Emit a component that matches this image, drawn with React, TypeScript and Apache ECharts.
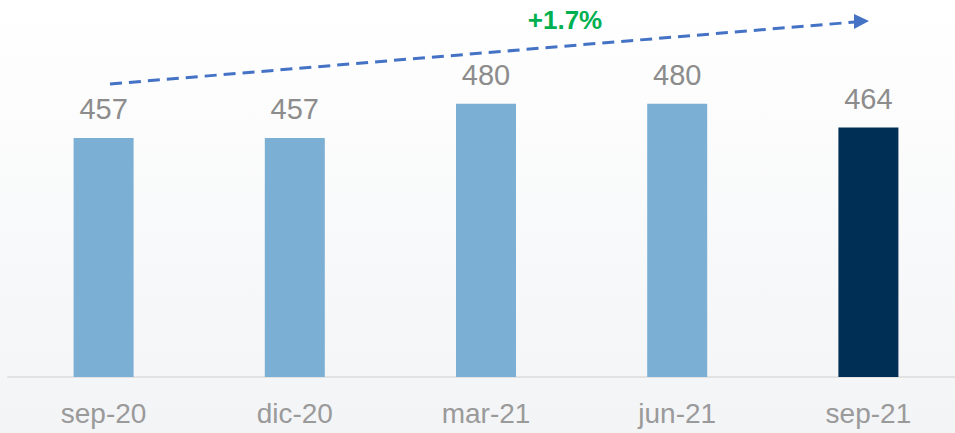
import React, { useEffect, useRef } from "react";
import * as echarts from "echarts";

const categories = ["sep-20", "dic-20", "mar-21", "jun-21", "sep-21"];
const values = [457, 457, 480, 480, 464];
const barColors = ["#7BAFD4", "#7BAFD4", "#7BAFD4", "#7BAFD4", "#002F56"];
const changeLabel = "+1.7%";

export default function App() {
  const ref = useRef<HTMLDivElement>(null);
  useEffect(() => {
    if (!ref.current) return;
    const chart = echarts.init(ref.current, undefined, { renderer: "svg" });
    chart.setOption({
      animation: false,
      backgroundColor: {
        type: "linear",
        x: 0, y: 0, x2: 0, y2: 1,
        colorStops: [
          { offset: 0, color: "#ffffff" },
          { offset: 1, color: "#f3f4f6" },
        ],
      },
      grid: { left: 8, right: 0, top: 14, bottom: 56, containLabel: false },
      xAxis: {
        type: "category",
        data: categories,
        axisTick: { show: false },
        axisLine: { lineStyle: { color: "#e2e2e2", width: 2 } },
        axisLabel: {
          color: "#9a9a9a",
          fontSize: 28,
          fontFamily: "'Liberation Sans', Arial, sans-serif",
          margin: 22,
        },
      },
      yAxis: {
        type: "value",
        min: 297,
        max: 540,
        show: false,
        splitLine: { show: false },
      },
      series: [
        {
          type: "bar",
          data: values.map((v, i) => ({ value: v, itemStyle: { color: barColors[i] } })),
          barWidth: 60,
          label: {
            show: true,
            position: "top",
            distance: 14,
            color: "#8c8c8c",
            fontSize: 29,
            fontFamily: "'Liberation Sans', Arial, sans-serif",
          },
        },
      ],
      graphic: [
        {
          type: "line",
          shape: { x1: 110, y1: 84, x2: 855, y2: 22 },
          style: { stroke: "#4472C4", lineWidth: 3, lineDash: [12, 7] },
        },
        {
          type: "polygon",
          shape: { points: [[854, 14], [869, 21], [854, 29]] },
          style: { fill: "#4472C4" },
        },
        {
          type: "text",
          x: 565,
          y: 20,
          style: {
            text: changeLabel,
            fill: "#00B050",
            fontSize: 26,
            fontWeight: "bold",
            fontFamily: "'Liberation Sans', Arial, sans-serif",
            textAlign: "center",
            textVerticalAlign: "middle",
          },
        },
      ],
    });
    return () => chart.dispose();
  }, []);
  return (
    <div
      style={{
        position: "absolute",
        left: 0,
        top: 0,
        width: 955,
        height: 433,
        overflow: "hidden",
      }}
    >
      <div ref={ref} style={{ width: 964, height: 433 }} />
    </div>
  );
}
